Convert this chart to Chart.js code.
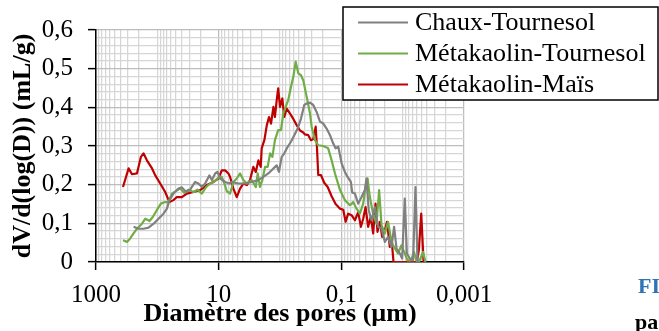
<!DOCTYPE html>
<html><head><meta charset="utf-8">
<script src="https://cdn.jsdelivr.net/npm/chart.js@4.4.0/dist/chart.umd.min.js"></script>
<style>
html,body{margin:0;padding:0;background:#fff;overflow:hidden;width:659px;height:331px;}
#wrap{position:relative;width:659px;height:331px;overflow:hidden;}
canvas{position:absolute;left:0;top:0;}
.cap{position:absolute;font-family:"Liberation Serif",serif;font-weight:bold;font-size:22px;line-height:22px;white-space:nowrap;}
</style></head><body>
<div id="wrap"><canvas id="c" width="659" height="331"></canvas>
<div class="cap" style="left:638px;top:275px;color:#2e74b5">FI</div>
<div class="cap" style="left:635px;top:311px;color:#000">pa</div>
</div>
<script>
// ---- data (pore diameter in µm, dV/dlogD in mL/g) ----
const seriesNames = ['Chaux-Tournesol', 'Métakaolin-Tournesol', 'Métakaolin-Maïs'];
const seriesColors = ['#808080', '#70ad47', '#c00000'];
const xTickLabels = [1000, 10, 0.1, 0.001];
const yTickLabels = [0, 0.1, 0.2, 0.3, 0.4, 0.5, 0.6];

const chauxD = [244,202,168,139,115,95.7,79.4,69.8,63.4,54.6,45.2,39.8,33.9,29.2,24.2,21.4,18.8,16.6,14.2,12.9,11.4,10.5,9.5,7.85,6.68,6.11,4.77,3.72,2.89,2.25,1.87,1.55,1.28,1.13,1.04,0.938,0.851,0.750,0.662,0.585,0.515,0.455,0.402,0.367,0.324,0.287,0.253,0.223,0.197,0.174,0.153,0.136,0.124,0.112,0.0989,0.0875,0.0791,0.0699,0.0665,0.0601,0.0531,0.0468,0.0413,0.0389,0.0358,0.0322,0.0284,0.0251,0.0221,0.0195,0.0173,0.0152,0.0138,0.0126,0.0111,0.0102,0.00923,0.00855,0.00765,0.00676,0.00618,0.00573,0.00545];
const chauxV = [.091,.086,.086,.089,.099,.112,.125,.138,.160,.177,.190,.193,.181,.187,.207,.203,.194,.203,.224,.212,.229,.233,.216,.207,.203,.207,.203,.203,.207,.212,.220,.229,.242,.250,.233,.272,.281,.298,.311,.328,.345,.371,.406,.410,.412,.406,.388,.363,.358,.345,.328,.307,.294,.298,.255,.233,.220,.207,.180,.177,.151,.168,.186,.216,.134,.108,.142,.091,.086,.052,.065,.039,.091,.035,.022,.009,.164,.022,.009,.004,.194,.003,0];

const mkTournesolD = [363,312,277,244,215,178,157,134,118,102,87.5,74.5,65.8,58,49.3,42.5,36.5,31.1,25.8,22.2,18.8,16.0,13.8,11.9,10.5,8.9,8.07,7.37,6.51,5.75,5.07,4.48,3.95,3.48,2.89,2.48,2.31,2.12,1.94,1.75,1.59,1.45,1.33,1.21,1.07,0.964,0.884,0.807,0.733,0.662,0.607,0.555,0.503,0.455,0.418,0.367,0.324,0.305,0.269,0.238,0.197,0.164,0.144,0.127,0.105,0.0875,0.0724,0.0681,0.0641,0.0564,0.0498,0.0440,0.0403,0.0373,0.0343,0.0303,0.0267,0.0242,0.0221,0.0195,0.0173,0.0152,0.0134,0.0119,0.0105,0.00923,0.00834,0.0073,0.00652,0.0060,0.0054,0.00465,0.00425];
const mkTournesolV = [.056,.052,.061,.074,.086,.099,.112,.106,.117,.134,.151,.155,.155,.177,.184,.190,.179,.187,.181,.187,.177,.194,.203,.207,.216,.220,.203,.183,.177,.207,.216,.229,.212,.203,.212,.194,.229,.194,.212,.246,.246,.281,.272,.315,.341,.341,.384,.401,.419,.453,.479,.518,.488,.483,.470,.427,.384,.350,.315,.302,.300,.294,.263,.229,.186,.160,.147,.150,.155,.138,.125,.151,.194,.216,.168,.125,.099,.186,.095,.074,.104,.052,.035,.022,.043,.022,.004,.004,.026,.004,0,.026,0];

const mkMaisD = [363,294,259,215,185,168,148,122,108,89.8,74.5,63.4,54.6,48,39.8,33,25.8,20,15.6,12.2,10.1,8.9,7.85,6.93,6.51,5.75,5.07,4.48,3.95,3.48,3.08,2.72,2.48,2.25,2.06,1.99,1.80,1.64,1.51,1.40,1.28,1.21,1.13,1.07,1.0,0.917,0.851,0.778,0.687,0.607,0.535,0.472,0.418,0.392,0.346,0.313,0.287,0.262,0.250,0.238,0.215,0.190,0.167,0.144,0.124,0.105,0.0931,0.0851,0.0773,0.0681,0.0601,0.0531,0.0480,0.0440,0.0403,0.0365,0.0330,0.0303,0.0277,0.0257,0.0235,0.0216,0.0195,0.0180,0.0162,0.0152,0.0141,0.0100,0.00587,0.00545,0.00498,0.00456];
const mkMaisV = [.194,.242,.227,.229,.272,.281,.263,.242,.224,.203,.181,.155,.160,.168,.168,.177,.181,.186,.199,.207,.216,.237,.237,.229,.220,.190,.168,.190,.203,.199,.212,.246,.233,.263,.246,.294,.315,.354,.375,.358,.401,.375,.419,.449,.401,.423,.375,.397,.384,.370,.354,.340,.335,.330,.328,.315,.318,.350,.298,.225,.225,.205,.194,.170,.150,.138,.135,.104,.125,.121,.108,.129,.091,.112,.142,.091,.117,.074,.151,.078,.104,.065,.082,.104,.039,.061,0,0,0,.03,.125,0];

// ---- helpers ----
const pts = (D, V) => D.map((d, i) => ({x: d, y: V[i]}));
const isMajorX = v => xTickLabels.some(t => Math.abs(Math.log10(v) - Math.log10(t)) < 1e-6);
const isMajorY = v => yTickLabels.some(t => Math.abs(v - t) < 1e-6);
const fmt = v => String(v).replace('.', ',');
const FONT = '"Liberation Serif", "Times New Roman", serif';

const legendPlugin = {
  id: 'boxLegend',
  afterDraw(chart) {
    const ctx = chart.ctx;
    const bx = 343, by = 7, bw = 315, bh = 93;
    ctx.save();
    ctx.fillStyle = '#fff';
    ctx.fillRect(bx, by, bw, bh);
    ctx.strokeStyle = '#000';
    ctx.lineWidth = 1.5;
    ctx.strokeRect(bx, by, bw, bh);
    ctx.font = '26px ' + FONT;
    ctx.textBaseline = 'middle';
    chart.data.datasets.forEach((ds, i) => {
      const y = 22.5 + i * 31;
      ctx.strokeStyle = ds.borderColor;
      ctx.lineWidth = 2.2;
      ctx.beginPath();
      ctx.moveTo(358, y);
      ctx.lineTo(408, y);
      ctx.stroke();
      ctx.fillStyle = '#000';
      ctx.fillText(ds.label, 415, y + 1);
    });
    ctx.restore();
  }
};

const series = [[chauxD, chauxV], [mkTournesolD, mkTournesolV], [mkMaisD, mkMaisV]];

new Chart(document.getElementById('c'), {
  type: 'scatter',
  data: {
    datasets: series.map((s, i) => ({
      label: seriesNames[i],
      data: pts(s[0], s[1]),
      showLine: true,
      borderColor: seriesColors[i],
      backgroundColor: seriesColors[i],
      borderWidth: 2.2,
      pointRadius: 0,
      tension: 0,
      borderJoinStyle: 'round'
    }))
  },
  options: {
    responsive: false,
    animation: false,
    layout: {padding: {top: 30, right: 195, left: 0, bottom: 0}},
    plugins: {legend: {display: false}, tooltip: {enabled: false}},
    scales: {
      x: {
        type: 'logarithmic',
        reverse: true,
        min: 0.001,
        max: 1000,
        afterBuildTicks: s => {
          const t = [];
          for (let n = -3; n <= 2; n++) for (let k = 1; k <= 9; k++) t.push({value: Number((k * Math.pow(10, n)).toPrecision(3))});
          t.push({value: 1000});
          s.ticks = t;
        },
        afterFit: s => { s.height = 69; },
        ticks: {
          autoSkip: false, maxRotation: 0, minRotation: 0, padding: 10,
          color: '#000', font: {family: FONT, size: 25},
          callback: v => isMajorX(v) ? fmt(v) : ''
        },
        grid: {
          color: c => (c.tick && isMajorX(c.tick.value)) ? '#bdbdbd' : '#d6d6d6',
          lineWidth: 1.25,
          tickLength: 8,
          tickWidth: 1.5,
          tickColor: c => (c.tick && isMajorX(c.tick.value)) ? '#000' : 'rgba(0,0,0,0)'
        },
        border: {color: '#000', width: 1.5},
        title: {display: true, text: 'Diamètre des pores (µm)', color: '#000',
          font: {family: FONT, size: 26, weight: 'bold', lineHeight: 1.2}, padding: {top: 0, bottom: 1}}
      },
      y: {
        min: 0,
        max: 0.6,
        afterBuildTicks: s => {
          const t = [];
          for (let i = 0; i <= 30; i++) t.push({value: Math.round(i * 2) / 100});
          s.ticks = t;
        },
        afterFit: s => { s.width = 96; },
        ticks: {
          autoSkip: false, padding: 15, color: '#000', font: {family: FONT, size: 25},
          callback: v => isMajorY(v) ? fmt(Math.round(v * 10) / 10) : ''
        },
        grid: {
          color: c => (c.tick && isMajorY(c.tick.value)) ? '#bdbdbd' : '#d6d6d6',
          lineWidth: 1.25,
          tickLength: 8,
          tickWidth: 1.5,
          tickColor: c => (c.tick && isMajorY(c.tick.value)) ? '#000' : 'rgba(0,0,0,0)'
        },
        border: {color: '#000', width: 1.5},
        title: {display: true, text: 'dV/d(log(D)) (mL/g)', color: '#000',
          font: {family: FONT, size: 26, weight: 'bold', lineHeight: 1.2}, padding: {top: 8, bottom: 0}}
      }
    }
  },
  plugins: [legendPlugin]
});
</script>
</body></html>
